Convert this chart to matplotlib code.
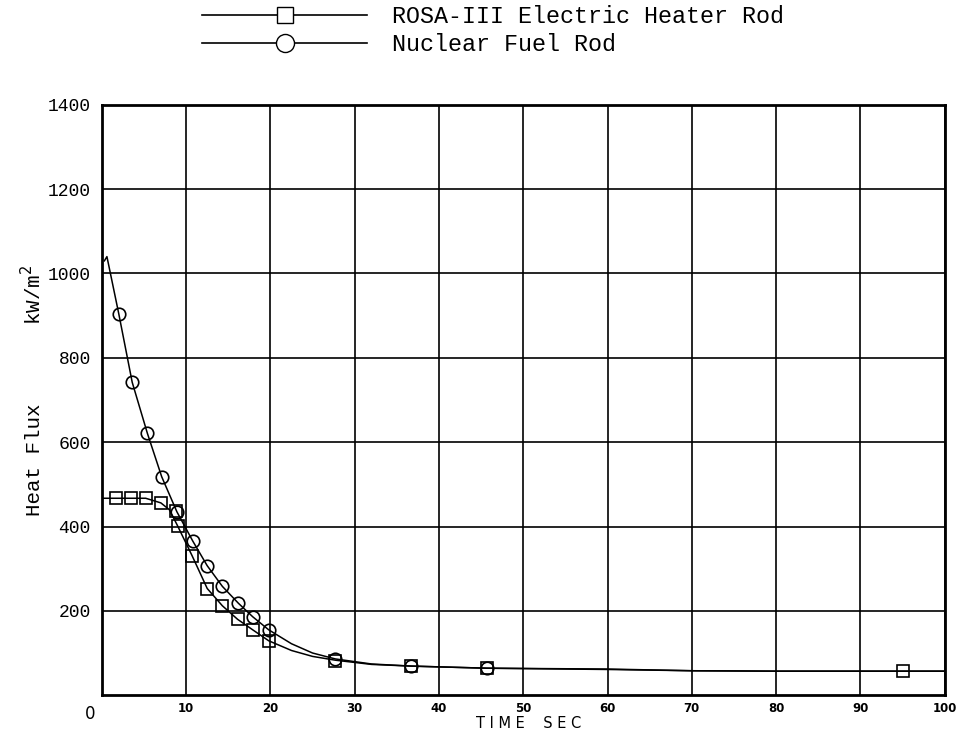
import numpy as np
import matplotlib
matplotlib.use('Agg')
import matplotlib.pyplot as plt
from matplotlib.lines import Line2D

# --- données ---
# courbes (traits continus)
fuel_curve_t = [0.3, 0.6, 2.0, 3.6, 5.4, 7.1, 8.9, 10.8, 12.5, 14.3, 16.2, 17.9,
                19.8, 22.5, 25.0, 27.7, 32.0, 36.7, 45.7, 60, 70, 80, 95, 100]
fuel_curve_q = [1030, 1040, 905, 742, 621, 518, 435, 365, 307, 258, 218, 186,
                155, 122, 100, 86, 74, 69, 64, 62, 58, 57, 57, 57]
heater_curve_t = [0, 1.7, 3.4, 5.2, 7.0, 8.0, 8.9, 10.7, 12.5, 14.3, 16.1, 17.9,
                  19.8, 22.5, 25.0, 27.7, 32.0, 36.7, 45.7, 60, 70, 80, 95, 100]
heater_curve_q = [467, 467, 467, 467, 456, 440, 405, 331, 253, 212, 180, 155,
                  129, 106, 92, 83, 73, 69, 64, 61, 58, 57, 57, 57]

# marqueurs
fuel_t = [2.0, 3.6, 5.4, 7.1, 8.9, 10.8, 12.5, 14.3, 16.2, 17.9, 19.8, 27.7, 36.7, 45.7]
fuel_q = [905, 742, 621, 518, 435, 365, 307, 258, 218, 186, 155, 86, 69, 64]
heater_t = [1.7, 3.4, 5.2, 7.0, 8.8, 9.0, 10.7, 12.5, 14.3, 16.1, 17.9, 19.8, 27.7, 36.7, 45.7, 95.0]
heater_q = [467, 467, 467, 456, 436, 402, 331, 253, 212, 180, 155, 129, 81, 69, 64, 57]

x_ticks = [10, 20, 30, 40, 50, 60, 70, 80, 90, 100]
y_ticks = [200, 400, 600, 800, 1000, 1200, 1400]

MONO = 'Liberation Mono'

fig = plt.figure(figsize=(9.61, 7.38), dpi=100)
ax = fig.add_axes([0.106, 0.058, 0.877, 0.800])

ax.plot(fuel_curve_t, fuel_curve_q, color='black', lw=1.1)
ax.plot(heater_curve_t, heater_curve_q, color='black', lw=1.1)
ax.plot(fuel_t, fuel_q, ls='none', marker='o', ms=9, mfc='none', mec='black', mew=1.2)
ax.plot(heater_t, heater_q, ls='none', marker='s', ms=8, mfc='none', mec='black', mew=1.2)

ax.set_xlim(0, 100)
ax.set_ylim(0, 1400)
ax.set_xticks(x_ticks)
ax.set_yticks(y_ticks)
ax.set_xticklabels([str(v) for v in x_ticks], fontsize=8.5, fontweight='bold',
                   family='DejaVu Sans')
ax.set_yticklabels([str(v) for v in y_ticks], fontsize=13, family=MONO)
ax.tick_params(axis='both', length=0)
ax.tick_params(axis='x', pad=5)
ax.tick_params(axis='y', pad=8)
ax.grid(True, color='black', lw=1.2)
for s in ax.spines.values():
    s.set_linewidth(2)

fig.text(0.094, 0.032, '0', fontsize=12, ha='center', va='center', family='DejaVu Sans')
fig.text(0.55, 0.019, 'T I M E    S E C', fontsize=10.5, ha='center', va='center',
         family='DejaVu Sans')
fig.text(0.036, 0.377, 'Heat Flux', rotation=90, fontsize=15, ha='center', va='center',
         family=MONO)
fig.text(0.034, 0.60, 'kW/m$^2$', rotation=90, fontsize=15, ha='center', va='center',
         family=MONO)

handles = [
    Line2D([], [], color='black', lw=1.2, marker='s', ms=12, mfc='white', mec='black'),
    Line2D([], [], color='black', lw=1.2, marker='o', ms=13, mfc='white', mec='black'),
]
labels = ['ROSA-III Electric Heater Rod', 'Nuclear Fuel Rod']
fig.legend(handles, labels, loc='upper left', bbox_to_anchor=(0.205, 1.0),
           frameon=False, handlelength=7.1, handletextpad=1.07, labelspacing=0.22,
           numpoints=1, prop={'family': MONO, 'size': 16.8}, borderpad=0.2,
           borderaxespad=0)

plt.savefig('out.png', dpi=100)
plt.close()
